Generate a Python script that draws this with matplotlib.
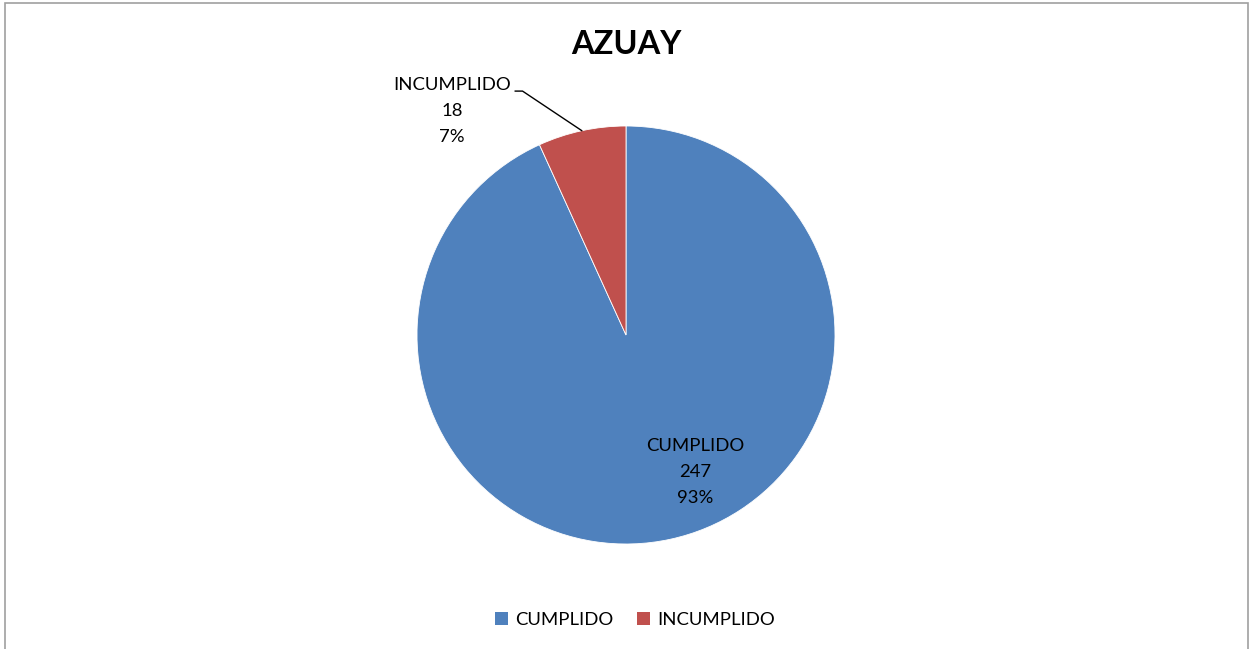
import matplotlib.pyplot as plt
from matplotlib.patches import Rectangle
from matplotlib.lines import Line2D

plt.rcParams['font.family'] = ['Lato', 'DejaVu Sans']

title = 'AZUAY'
categories = ['CUMPLIDO', 'INCUMPLIDO']
counts = [247, 18]
percents = ['93%', '7%']
colors = ['#4F81BD', '#C0504D']

W, H = 1255, 649
fig = plt.figure(figsize=(W / 100, H / 100), dpi=100)

# outer chart border
fig.patches.append(Rectangle((5 / W, -0.01), (1248 - 5) / W, 1 - 3 / H + 0.01,
                             transform=fig.transFigure, fill=False,
                             edgecolor='#A0A0A0', linewidth=1.2))

# pie axes: centre (626, 335) px, radius 209 px
r = 209
ax = fig.add_axes([(626 - r) / W, (H - 335 - r) / H, 2 * r / W, 2 * r / H])
wedges, _ = ax.pie(counts, colors=colors, startangle=90, counterclock=False,
                   wedgeprops=dict(edgecolor='white', linewidth=0.6))
ax.set_xlim(-1, 1)
ax.set_ylim(-1, 1)
ax.set_aspect('equal')
ax.axis('off')

# data labels
ax.text(0.33, -0.655, f'{categories[0]}\n{counts[0]}\n{percents[0]}',
        ha='center', va='center', fontsize=13.3, linespacing=1.78, color='black')
ax.text(-0.833, 1.072, f'{categories[1]}\n{counts[1]}\n{percents[1]}',
        ha='center', va='center', fontsize=13.3, linespacing=1.78, color='black',
        clip_on=False)
ax.add_line(Line2D([-0.53, -0.495, -0.212], [1.167, 1.167, 0.978],
                   color='black', linewidth=1, clip_on=False))

fig.text(626 / W, 1 - 44 / H, title, ha='center', va='center',
         fontsize=23.5, fontweight='bold')

handles = [Rectangle((0, 0), 1, 1, facecolor=c) for c in colors]
fig.legend(handles, categories, loc='center', bbox_to_anchor=(635 / W, 1 - 620 / H),
           ncol=2, frameon=False, fontsize=13.3, handlelength=0.7, handleheight=0.7,
           handletextpad=0.4, columnspacing=1.3)

fig.savefig('out.png', dpi=100)
